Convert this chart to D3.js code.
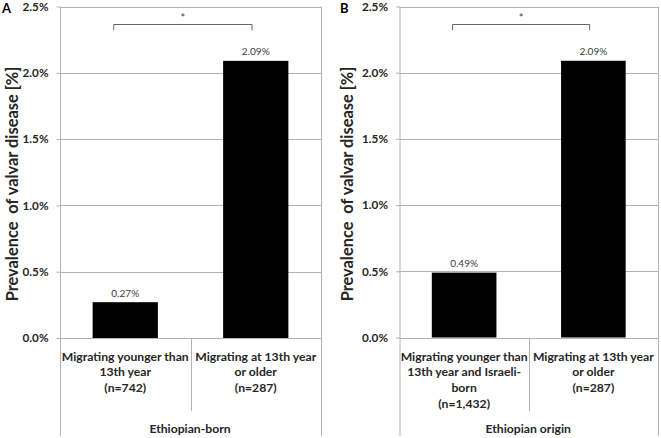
<!DOCTYPE html>
<html><head><meta charset="utf-8">
<script src="https://cdn.jsdelivr.net/npm/d3@7"></script>
<style>
html,body{margin:0;padding:0;background:#fff;}
svg{display:block;}
text{font-family:Lato,"Open Sans",sans-serif;}
</style></head>
<body>
<svg id="chart" width="661" height="438"></svg>
<script>
// ---- data ----
const panelLetters = ["A", "B"];
const groupLabels = ["Ethiopian-born", "Ethiopian origin"];
const categoriesA = [["Migrating younger than", "13th year", "(n=742)"], ["Migrating at 13th year", "or older", "(n=287)"]];
const categoriesB = [["Migrating younger than", "13th year and Israeli-", "born", "(n=1,432)"], ["Migrating at 13th year", "or older", "(n=287)"]];
const valuesA = [0.27, 2.09];
const valuesB = [0.49, 2.09];
const yTicks = [0, 0.5, 1.0, 1.5, 2.0, 2.5];
const yTitle = "Prevalence  of valvar disease [%]";
const significance = ["*", "*"];

// ---- layout ----
const svg = d3.select("#chart");
const panels = [
  {letter: panelLetters[0], group: groupLabels[0], cats: categoriesA, vals: valuesA, sig: significance[0],
   left: 60, right: 321, top: 6.5, bottom: 338, titleX: 13, letterX: 2},
  {letter: panelLetters[1], group: groupLabels[1], cats: categoriesB, vals: valuesB, sig: significance[1],
   left: 399.5, right: 658, top: 6.5, bottom: 337.5, titleX: 348, letterX: 340}
];
const gridColor = "#b3b3b3";
const textColor = "#262626";

// fit a bold font size so a reference string spans a target width
function fitSize(str, target, weight) {
  const t = svg.append("text").attr("font-weight", weight).style("font-size", "20px").text(str);
  const w = t.node().getComputedTextLength();
  t.remove();
  return 20 * target / w;
}
const catSize = fitSize("Migrating at 13th year", 121, "bold");
const titleSize = fitSize(yTitle, 231, "bold");
const tickSize = fitSize("2.5%", 26, "bold");
const valSize = fitSize("2.09%", 28, "normal");

panels.forEach(p => {
  const g = svg.append("g");
  const y = d3.scaleLinear().domain([0, 2.5]).range([p.bottom, p.top]);
  const x = d3.scaleBand().domain(d3.range(p.vals.length)).range([p.left, p.right])
    .paddingInner(0.5).paddingOuter(0.25);
  const xc = d3.scaleBand().domain(d3.range(p.vals.length)).range([p.left, p.right]);

  // gridlines
  g.selectAll("line.grid").data(yTicks).join("line")
    .attr("x1", p.left).attr("x2", p.right)
    .attr("y1", d => Math.round(y(d)) + 0.5).attr("y2", d => Math.round(y(d)) + 0.5)
    .attr("stroke", gridColor).attr("stroke-width", 1);

  // y axis
  const yAxis = d3.axisLeft(y).tickValues(yTicks).tickSize(4).tickPadding(8)
    .tickFormat(d => d3.format(".1f")(d) + "%");
  const ag = g.append("g").attr("transform", `translate(${p.left + 0.5},0)`).call(yAxis);
  ag.select(".domain").remove();
  ag.selectAll(".tick line").attr("stroke", gridColor);
  ag.selectAll(".tick text").attr("fill", textColor).attr("font-weight", "bold")
    .style("font-size", tickSize + "px").style("font-family", "Lato, sans-serif");

  // frame lines
  g.append("line").attr("x1", p.left + 0.5).attr("x2", p.left + 0.5).attr("y1", p.top).attr("y2", 436)
    .attr("stroke", gridColor);
  g.append("line").attr("x1", p.right + 0.5).attr("x2", p.right + 0.5).attr("y1", p.top).attr("y2", 436)
    .attr("stroke", gridColor);
  // category separator
  g.append("line").attr("x1", Math.round(xc(1)) + 0.5).attr("x2", Math.round(xc(1)) + 0.5)
    .attr("y1", p.bottom).attr("y2", 411).attr("stroke", gridColor);

  // bars
  g.selectAll("rect.bar").data(p.vals).join("rect")
    .attr("x", (d, i) => x(i)).attr("width", x.bandwidth())
    .attr("y", d => y(d)).attr("height", d => y(0) - y(d))
    .attr("fill", "#000");

  // value labels
  g.selectAll("text.val").data(p.vals).join("text")
    .attr("x", (d, i) => x(i) + x.bandwidth() / 2).attr("y", d => y(d) - 5.5)
    .attr("text-anchor", "middle").attr("fill", "#404040")
    .style("font-size", valSize + "px")
    .text(d => d3.format(".2f")(d) + "%");

  // category labels
  p.cats.forEach((lines, i) => {
    const t = g.append("text").attr("text-anchor", "middle").attr("fill", textColor)
      .attr("font-weight", "bold").style("font-size", catSize + "px");
    lines.forEach((ln, j) => {
      t.append("tspan").attr("x", xc(i) + xc.bandwidth() / 2).attr("y", 360.5 + j * 15.8).text(ln);
    });
  });

  // group label
  g.append("text").attr("x", (p.left + p.right) / 2 - 0.5).attr("y", 433)
    .attr("text-anchor", "middle").attr("fill", textColor).attr("font-weight", "bold")
    .style("font-size", catSize + "px").text(p.group);

  // y title
  g.append("text").attr("transform", `translate(${p.titleX + 5},${184}) rotate(-90)`)
    .attr("text-anchor", "middle").attr("fill", textColor).attr("font-weight", "bold")
    .style("font-size", titleSize + "px").style("white-space", "pre").text(yTitle);

  // panel letter
  g.append("text").attr("x", p.letterX).attr("y", 13).attr("fill", "#000").attr("font-weight", "bold")
    .style("font-size", "13px").text(p.letter);

  // significance bracket
  const bx1 = x(0) + x.bandwidth() / 2 - 11.5;
  const bx2 = x(1) + x.bandwidth() / 2 - 3.7;
  const by = Math.round(y(2.37)) + 0.5;
  const by2 = y(2.32);
  g.append("path").attr("d", `M${bx1},${by2}V${by}H${bx2}V${by2}`)
    .attr("fill", "none").attr("stroke", "#666").attr("stroke-width", 1);
  g.append("text").attr("x", (bx1 + bx2) / 2).attr("y", by - 2.5).attr("text-anchor", "middle")
    .attr("fill", "#404040").style("font-size", "11px").text(p.sig);
});
</script>
</body></html>
